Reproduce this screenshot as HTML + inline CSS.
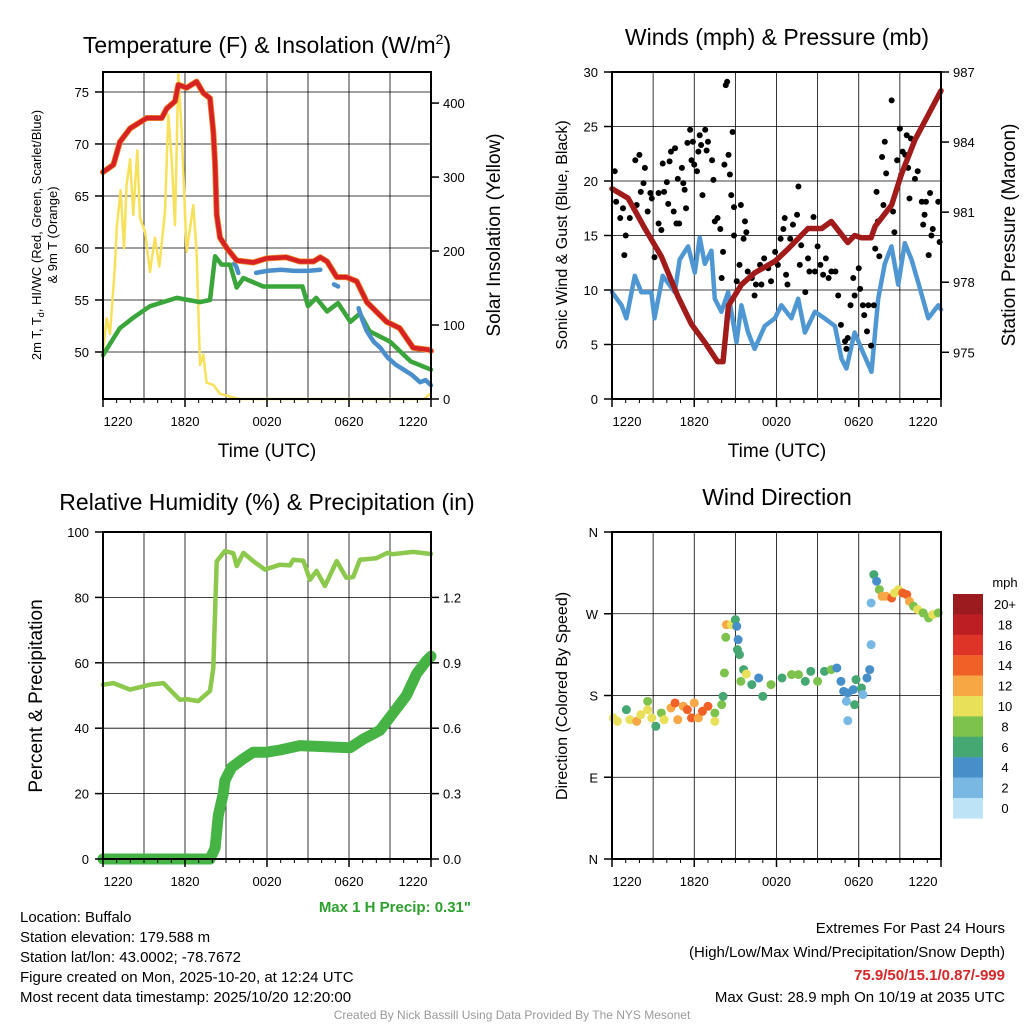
<!DOCTYPE html>
<html><head><meta charset="utf-8"><style>
html,body{margin:0;padding:0;background:#fff;}
svg text{font-family:"Liberation Sans",sans-serif;}
</style></head><body>
<svg id="chart" width="1024" height="1024" viewBox="0 0 1024 1024" xmlns="http://www.w3.org/2000/svg">
<rect width="1024" height="1024" fill="#fff"/>
<text x="267" y="53" font-size="23" text-anchor="middle">Temperature (F) &amp; Insolation (W/m<tspan dy="-9" font-size="14">2</tspan><tspan dy="9">)</tspan></text>
<text x="777" y="45" font-size="23" text-anchor="middle">Winds (mph) &amp; Pressure (mb)</text>
<text x="267" y="510" font-size="23" text-anchor="middle">Relative Humidity (%) &amp; Precipitation (in)</text>
<text x="777" y="505" font-size="23" text-anchor="middle">Wind Direction</text>
<text x="267" y="457" font-size="19" text-anchor="middle">Time (UTC)</text>
<text x="777" y="457" font-size="19" text-anchor="middle">Time (UTC)</text>
<text transform="translate(41,235) rotate(-90)" font-size="13" text-anchor="middle">2m T, T<tspan font-size="9" dy="3">d</tspan><tspan dy="-3">, HI/WC (Red, Green, Scarlet/Blue)</tspan></text>
<text transform="translate(57,235) rotate(-90)" font-size="13" text-anchor="middle">&amp; 9m T (Orange)</text>
<text transform="translate(500,235) rotate(-90)" font-size="19" text-anchor="middle">Solar Insolation (Yellow)</text>
<text transform="translate(567,235) rotate(-90)" font-size="16" text-anchor="middle">Sonic Wind &amp; Gust (Blue, Black)</text>
<text transform="translate(1015,235) rotate(-90)" font-size="19" text-anchor="middle">Station Pressure (Maroon)</text>
<text transform="translate(42,696) rotate(-90)" font-size="19" text-anchor="middle">Percent &amp; Precipitation</text>
<text transform="translate(567,696) rotate(-90)" font-size="16" text-anchor="middle">Direction (Colored By Speed)</text>
<text x="471" y="912" font-size="15" font-weight="bold" fill="#2ca02c" text-anchor="end">Max 1 H Precip: 0.31"</text>
<g font-size="15">
<text x="20" y="922">Location: Buffalo</text>
<text x="20" y="942">Station elevation: 179.588 m</text>
<text x="20" y="962">Station lat/lon: 43.0002; -78.7672</text>
<text x="20" y="982">Figure created on Mon, 2025-10-20, at 12:24 UTC</text>
<text x="20" y="1002">Most recent data timestamp: 2025/10/20 12:20:00</text>
</g>
<g font-size="15" text-anchor="end">
<text x="1005" y="933">Extremes For Past 24 Hours</text>
<text x="1005" y="957">(High/Low/Max Wind/Precipitation/Snow Depth)</text>
<text x="1005" y="980" fill="#d62728" font-weight="bold">75.9/50/15.1/0.87/-999</text>
<text x="1005" y="1002">Max Gust: 28.9 mph On 10/19 at 2035 UTC</text>
</g>
<text x="512" y="1019" font-size="12" fill="#999" text-anchor="middle">Created By Nick Bassill Using Data Provided By The NYS Mesonet</text>
<g id="layer"></g>
</svg>
<script>
// ---- data ----
const xTickLabels = ["1220","1820","0020","0620","1220"];
const tempHours = [0,0.76,1.24,1.98,3.2,4.3,4.66,5.27,5.51,6.12,6.85,7.34,7.83,8.07,8.2,8.32,8.56,9.05,9.78,11.0,11.97,13.4,14.4,15.4,15.9,16.4,17.1,17.8,18.56,19.3,20.75,21.7,22.7,23.9,24];
const tempValues = [67.3,68,70.2,71.5,72.5,72.5,73.4,74.1,75.7,75.4,76,74.9,74.4,71.2,68,63.2,61,60,58.8,58.6,59,59.1,58.7,58.7,59.1,58.7,57.2,57.2,56.8,54.8,52.9,52.3,50.4,50.2,50.1];
const dewHours = [0,1.24,2.22,3.44,5.39,7.1,7.83,8.2,8.68,9.29,9.78,10.27,11.73,13.4,14.6,15.0,15.6,16.4,17.2,18.1,18.8,19.5,21,22.5,24];
const dewValues = [49.7,52.3,53.3,54.4,55.2,54.8,55,59.2,58.4,58.4,56.2,57.1,56.3,56.3,56.3,54.4,55.2,53.9,54.7,52.9,53.7,52,51,49.1,48.3];
const wcHours = [9.6,9.75,9.9, 11.2,12,13,14,15,15.9, 16.9,17.2, 18.7,19.0,19.3,19.8,20.3,20.8,21.4,22,22.6,23.2,23.6,24];
const wcValues = [58.5,58.2,57.6, 57.6,57.8,57.9,57.8,57.8,57.9, 56.5,56.3, 54.2,53,52,51,50.4,49.5,48.8,48.3,47.8,47.1,47.3,46.8];
const wcSegments = [[0,3],[3,9],[9,11],[11,23]];
const solarHours = [0,0.27,0.51,0.88,1.0,1.29,1.54,1.73,1.98,2.22,2.51,2.71,3.07,3.44,3.8,4.12,4.54,4.78,5.02,5.27,5.51,5.76,6.12,6.61,6.85,7.1,7.34,7.58,8.07,8.56,9.54,10,23.5,24];
const solarValues = [64,109,88,181,231,282,204,289,324,249,336,245,226,172,218,179,253,384,326,235,440,361,199,262,199,46,60,22,19,7,2,0,0,8];
const windHours = [0,0.7,1.05,1.66,2.14,2.87,3.1,3.7,4.58,4.94,5.55,6.04,6.4,6.77,7.25,7.5,7.98,8.47,9.08,9.44,9.93,10.4,11.15,11.88,12.36,13.09,13.58,14.07,14.8,15.5,16.26,16.74,17.1,17.7,18.2,18.93,19.42,19.9,20.39,20.88,21.36,21.85,22.34,23.07,23.8,24];
const windValues = [9.8,8.6,7.4,11.3,9.8,9.8,7.4,11.3,9.8,12.8,14,11.6,14.8,12.4,13.6,9.2,8,9.8,5.2,8.6,6.1,4.6,6.7,7.4,8.6,7.4,9.2,6.1,8,7.4,6.7,3.7,2.8,6.1,4.6,2.5,9.2,12.4,14,10.5,14.3,12.8,10.7,7.4,8.6,8.2];
const gustHours = [0.2,0.3,0.6,0.8,0.9,1.0,1.3,1.7,2.0,1.8,2.1,2.3,2.4,2.6,2.8,2.9,3.1,3.4,3.4,3.6,3.7,3.8,4.0,4.1,4.2,4.3,4.5,4.6,4.7,4.8,4.9,5.1,5.2,5.3,5.4,5.5,5.7,5.8,5.9,6.0,6.2,6.3,6.4,6.5,6.6,6.8,6.9,7.0,7.3,7.4,7.5,7.7,7.9,8.0,8.1,8.2,8.3,8.4,8.5,8.6,8.7,8.8,8.9,8.9,9.1,9.3,9.4,9.6,9.7,9.8,9.9,10.2,10.4,10.5,10.8,10.9,11.1,11.4,11.6,11.9,12.1,12.3,12.5,12.6,12.7,12.8,13.0,13.2,13.5,13.6,13.7,13.8,14.1,14.3,14.4,14.7,14.8,15.0,15.2,15.4,15.6,15.8,16.0,16.3,16.5,16.7,17.0,17.1,17.2,17.4,17.6,17.7,18.0,18.1,18.3,18.4,18.6,18.7,18.9,19.1,19.2,19.3,19.4,19.5,19.7,19.8,19.9,20.0,20.4,20.5,20.6,20.8,21.0,21.1,21.2,21.4,21.5,21.6,21.7,21.8,22.1,22.3,22.6,22.7,22.8,22.9,23.1,23.2,23.3,23.4,23.8,23.9];
const gustSpeeds = [20.9,18.1,16.6,17.5,13.2,15.0,16.6,21.9,22.4,17.8,19.0,19.8,21.2,17.2,18.9,18.4,13.0,16.1,18.9,15.5,21.6,19.0,19.9,17.9,21.8,22.7,17.2,23.0,16.1,20.2,16.1,21.2,19.8,19.2,17.5,23.5,24.7,21.9,23.6,21.5,20.9,22.7,24.2,23.3,18.7,24.7,22.8,23.6,21.9,20.1,16.3,16.6,15.6,11.1,13.5,21.5,28.8,29.1,22.4,20.6,18.7,24.5,17.6,15.0,10.8,12.3,17.8,14.7,16.3,15.3,11.7,11.1,9.5,10.5,12.3,10.5,12.9,12.0,10.8,13.5,12.3,14.7,15.6,16.6,11.4,10.5,14.7,16.0,16.9,19.5,12.3,14.1,9.8,12.9,11.7,16.7,11.7,14.0,12.3,11.4,12.9,11.1,11.7,11.7,9.5,6.8,5.3,4.6,5.6,8.6,11.1,9.5,12.0,10.1,8.6,7.7,6.2,8.6,4.9,8.6,13.8,19.0,16.3,13.1,22.2,17.8,23.6,20.7,27.4,17.2,15.3,21.9,24.8,20.6,22.7,22.4,24.2,21.2,18.4,23.9,20.2,20.9,18.1,16.0,16.9,18.1,13.2,18.9,15.0,15.6,18.1,14.4];
const presHours = [0,1.17,2.4,3.6,4.8,5.8,6.8,7.7,8.1,8.5,9.45,10.4,11.9,12.8,14.3,15.3,16,17.2,17.7,18.2,18.9,19.2,20.4,21.1,22.1,23.1,24];
const presValues = [982.0,981.6,980.3,979.1,977.4,976.2,975.4,974.6,974.6,977.0,977.9,978.4,978.9,979.4,980.3,980.3,980.6,979.7,980.0,979.9,979.9,980.4,981.3,982.6,984.1,985.2,986.2];
const rhHours = [0,0.76,1.98,3.44,4.41,5.63,6.12,6.97,7.83,8.07,8.32,8.92,9.54,9.78,10.27,10.99,11.85,12.95,13.68,13.92,14.66,15.14,15.63,16.24,17.1,17.8,18.3,18.8,20.0,20.8,21.2,22.7,23.9,24];
const rhValues = [53.3,53.8,51.8,53.3,53.8,48.7,48.9,48.3,51.4,58.4,91,94.2,93.5,89.6,93.6,91.1,88.5,90,89.8,91.5,91.2,85.4,88.1,83.5,91.1,86,86.2,91.5,92,93.6,93.2,93.9,93.3,93.3];
const precipHours = [0,4,7.83,8.2,8.44,8.8,8.92,9.41,10.27,10.99,11.97,12.95,14.4,18.07,19.04,20.26,20.99,22.2,22.95,23.68,24];
const precipValues = [0,0,0,0.05,0.2,0.3,0.36,0.42,0.46,0.49,0.49,0.5,0.52,0.51,0.55,0.59,0.65,0.75,0.85,0.91,0.93];
const dirHours = [0.1,0.4,1.05,1.3,1.8,2.1,2.6,2.6,2.9,3.2,3.6,3.8,4.3,4.6,4.8,5.2,5.5,5.8,6.0,6.3,6.6,7.0,7.5,7.5,8.0,8.1,8.2,8.35,8.7,9.0,9.1,8.3,9.2,9.15,9.3,9.6,9.8,9.4,10.2,10.7,11.0,11.6,12.4,13.1,13.6,14.1,14.5,15.0,15.5,16.0,16.4,16.7,16.9,17.1,17.2,17.6,17.7,17.8,18.2,18.3,18.6,18.8,17.2,18.9,18.9,19.1,19.3,19.5,19.7,20.0,20.4,20.6,20.9,21.2,21.5,21.7,22.0,22.3,22.7,23.1,23.4,23.8];
const dirDeg = [155.3,151.6,164.4,153.4,151.6,158.9,173.6,164.4,155.3,146.1,160.8,153.4,166.3,171.8,153.4,168.1,164.4,155.3,171.8,155.3,162.6,168.1,160.8,151.6,169.9,179.1,204.8,258.0,258.0,263.5,256.2,244.1,241.5,230.5,225.0,208.5,203.7,195.6,192.0,199.3,179.1,192.0,199.3,203.0,203.0,195.6,206.6,195.6,206.6,208.5,210.3,195.6,184.6,173.6,182.8,186.5,169.9,197.5,188.3,181.0,199.3,208.5,152.3,236.0,281.9,313.1,305.8,296.6,289.2,289.2,287.4,292.9,296.6,292.9,291.1,283.7,278.2,274.6,270.9,265.4,269.1,270.9];
const dirSpeed = [10,10,6,10,12,10,8,10,10,6,8,10,12,14,12,12,14,14,12,12,14,14,8,10,8,6,8,12,10,6,4,8,4,6,6,6,10,8,6,4,6,8,6,8,8,6,6,8,6,8,4,4,4,2,4,4,6,6,6,2,4,4,2,2,2,6,4,8,12,12,14,10,10,14,14,12,8,10,8,8,10,8];
const colorLevels = ["20+","18","16","14","12","10","8","6","4","2","0"];
const colorFills = ["#9b1b1e","#bd1e24","#de3327","#f06128","#f7a743","#e8e059","#7cc24d","#45a771","#468fc9","#7ab8e4","#bde3f6"];
const tempTicks=[50,55,60,65,70,75], solarTicks=[0,100,200,300,400];
const windTicks=[0,5,10,15,20,25,30], presTicks=[975,978,981,984,987];
const rhTicks=[0,20,40,60,80,100], precipTicks=[0,0.3,0.6,0.9,1.2];
const dirTicks=[0,90,180,270,360], dirLabels=["N","E","S","W","N"];

const NS="http://www.w3.org/2000/svg";
const layer=document.getElementById('layer');
function mk(tag,attrs,name,parent){
  const e=document.createElementNS(NS,tag);
  for(const k in attrs) e.setAttribute(k,attrs[k]);
  
  
  (parent||layer).appendChild(e);
  return e;
}
function txt(x,y,s,size,anchor,name){const t=mk('text',{x:x,y:y,'font-size':size,'text-anchor':anchor},name);t.textContent=s;return t;}

function panel(p){
  p.sx=h=>p.x0+h/24*(p.x1-p.x0);
  p.sy=(v)=>p.y1-(v-p.lo)/(p.hi-p.lo)*(p.y1-p.y0);
  p.sy2=(v)=>p.y1-(v-p.lo2)/(p.hi2-p.lo2)*(p.y1-p.y0);
  return p;
}
function grid(p,ticks,fn,name){
  for(let i=1;i<8;i++){const x=p.sx(i*3);mk('line',{x1:x,x2:x,y1:p.y0,y2:p.y1,stroke:'#000','stroke-width':0.8},name+'-vgrid');}
  ticks.forEach(v=>{const y=fn(v);if(y>p.y0+1&&y<p.y1-1)mk('line',{x1:p.x0,x2:p.x1,y1:y,y2:y,stroke:'#000','stroke-width':0.8},name+'-hgrid');});
}
function frame(p,name){
  mk('rect',{x:p.x0,y:p.y0,width:p.x1-p.x0,height:p.y1-p.y0,fill:'none',stroke:'#000','stroke-width':2},name+'-frame');
  xTickLabels.forEach((s,i)=>{const x=p.sx(i*6);mk('line',{x1:x,x2:x,y1:p.y1,y2:p.y1+8,stroke:'#000','stroke-width':1.5},name+'-x-tick');
    txt(i==0?x+15:(i==4?x-18:x),p.y1+27,s,13,'middle',name+'-x-tick-label');});
  for(let i=1;i<24;i++){if(i%6){const x=p.sx(i);mk('line',{x1:x,x2:x,y1:p.y1,y2:p.y1+4,stroke:'#000','stroke-width':1},name+'-x-minor');}}
}
function leftTicks(p,ticks,fn,name,labels){ticks.forEach((v,i)=>{const y=fn(v);mk('line',{x1:p.x0-8,x2:p.x0,y1:y,y2:y,stroke:'#000','stroke-width':1.5},name+'-ytick');txt(p.x0-14,y+5,labels?labels[i]:String(v),13,'end',name+'-ytick-label');});}
function rightTicks(p,ticks,fn,name,fmt){ticks.forEach(v=>{const y=fn(v);mk('line',{x1:p.x1,x2:p.x1+8,y1:y,y2:y,stroke:'#000','stroke-width':1.5},name+'-ytick-right');txt(p.x1+12,y+5,fmt?fmt(v):String(v),13,'start',name+'-ytick-right-label');});}
function line(p,hs,vs,fn,color,w,name){
  let d='';hs.forEach((h,i)=>{d+=(i?'L':'M')+p.sx(h).toFixed(1)+','+fn(vs[i]).toFixed(1);});
  mk('path',{d:d,fill:'none',stroke:color,'stroke-width':w,'stroke-linejoin':'round','stroke-linecap':'round'},name);
}
function dots(p,hs,vs,fn,color,r,name){hs.forEach((h,i)=>mk('circle',{cx:p.sx(h),cy:fn(vs[i]),r:r,fill:color},name));}

// Panel 1
const p1=panel({x0:103,x1:431,y0:72,y1:399,lo:45.48,hi:76.92,lo2:0,hi2:442});
grid(p1,tempTicks,p1.sy,'temp');
line(p1,solarHours,solarValues,p1.sy2,'#f7e15a',2.5,'solar-line');
line(p1,dewHours,dewValues,p1.sy,'#3aa53a',4.5,'dewpoint-line');
wcSegments.forEach(s=>line(p1,wcHours.slice(s[0],s[1]),wcValues.slice(s[0],s[1]),p1.sy,'#4a8fcc',4.5,'windchill-line'));
line(p1,tempHours,tempValues,p1.sy,'#f08a2a',6,'temp-9m-line');
line(p1,tempHours,tempValues,p1.sy,'#d62222',4.5,'temp-2m-line');
frame(p1,'temp');leftTicks(p1,tempTicks,p1.sy,'temp');rightTicks(p1,solarTicks,p1.sy2,'solar');

// Panel 2
const p2=panel({x0:612,x1:941,y0:72,y1:399,lo:0,hi:30,lo2:973,hi2:987});
grid(p2,windTicks,p2.sy,'wind');
line(p2,windHours,windValues,p2.sy,'#4f97d3',4.5,'sonic-wind-line');
dots(p2,gustHours,gustSpeeds,p2.sy,'#000',3,'gust-dot');
line(p2,presHours,presValues,p2.sy2,'#a11b1b',5.5,'pressure-line');
frame(p2,'wind');leftTicks(p2,windTicks,p2.sy,'wind');rightTicks(p2,presTicks,p2.sy2,'pressure');

// Panel 3
const p3=panel({x0:103,x1:431,y0:532,y1:859,lo:0,hi:100,lo2:0,hi2:1.5});
grid(p3,rhTicks,p3.sy,'rh');
line(p3,rhHours,rhValues,p3.sy,'#8cc84b',4.5,'rh-line');
line(p3,precipHours,precipValues,p3.sy2,'#45b445',11,'precip-line');
frame(p3,'rh');leftTicks(p3,rhTicks,p3.sy,'rh');rightTicks(p3,precipTicks,p3.sy2,'precip',v=>v.toFixed(1));

// Panel 4
const p4=panel({x0:612,x1:941,y0:532,y1:859,lo:0,hi:360,lo2:0,hi2:1});
grid(p4,dirTicks,p4.sy,'wdir');
dirHours.forEach((h,i)=>{const idx=Math.max(0,Math.min(10,10-Math.floor(dirSpeed[i]/2)));
  mk('circle',{cx:p4.sx(h),cy:p4.sy(dirDeg[i]),r:4.5,fill:colorFills[idx]},'wind-dir-dot');});
frame(p4,'wdir');leftTicks(p4,dirTicks,p4.sy,'wdir',dirLabels);
txt(1005,587,'mph',13,'middle','colorbar-title');
colorLevels.forEach((s,i)=>{const y=594+i*20.4;mk('rect',{x:953,y:y,width:30,height:20.6,fill:colorFills[i]},'colorbar-box-'+s);
  txt(1005,y+15,s,13,'middle','colorbar-label');});
</script>
</body></html>
